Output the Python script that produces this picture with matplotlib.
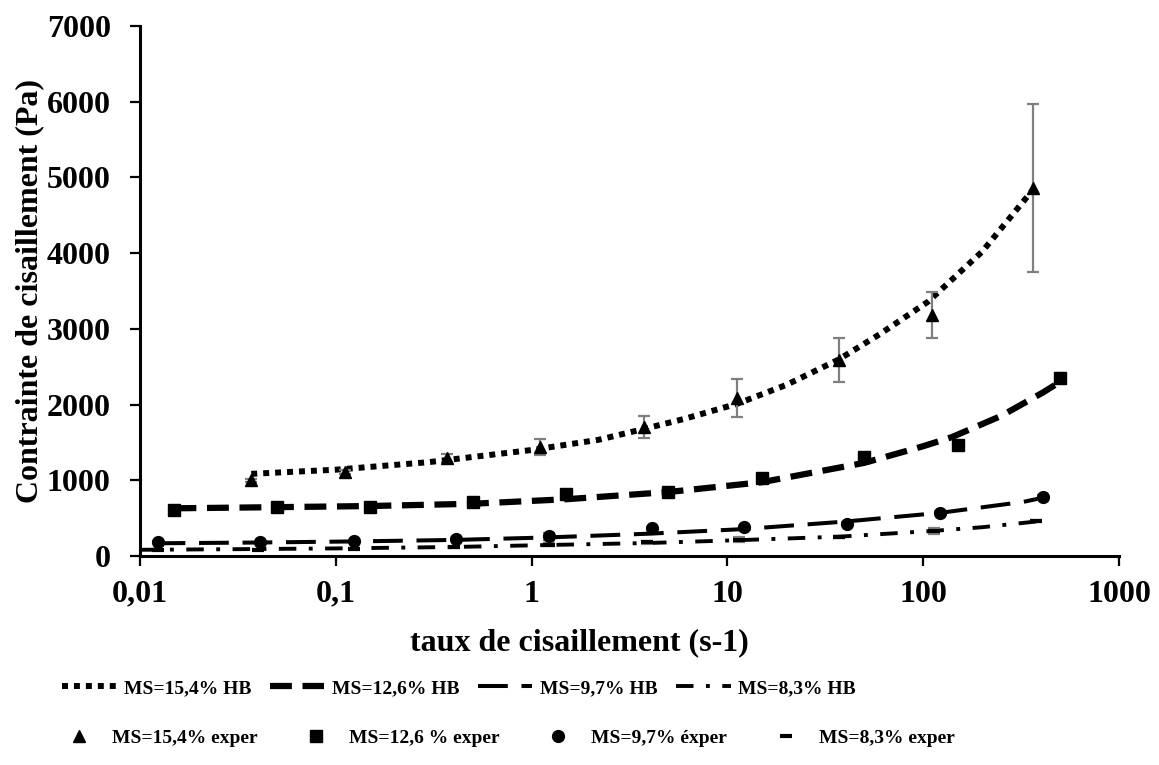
import matplotlib
matplotlib.use("Agg")
import matplotlib.pyplot as plt

plt.rcParams['font.family'] = ['Liberation Serif', 'DejaVu Serif']
plt.rcParams['font.weight'] = 'bold'

# experimental points
x_154 = [0.037, 0.112, 0.37, 1.11, 3.73, 11.2, 37.3, 111, 364]
y_154 = [1000, 1110, 1295, 1440, 1704, 2087, 2589, 3184, 4861]
e_154 = [20, 30, 55, 100, 140, 250, 290, 300, 1105]

x_126 = [0.015, 0.05, 0.15, 0.5, 1.5, 5, 15, 50, 150, 500]
y_126 = [608, 647, 647, 713, 825, 845, 1030, 1308, 1466, 2351]
e_126 = [10, 10, 10, 10, 15, 15, 20, 25, 30, 60]

x_97 = [0.0124, 0.041, 0.124, 0.41, 1.22, 4.1, 12.2, 41, 122, 409]
y_97 = [185, 185, 198, 222, 262, 370, 383, 423, 570, 779]
e_97 = [10, 10, 10, 15, 45, 15, 15, 20, 20, 25]

x_83 = [0.0124, 0.04, 0.124, 0.4, 1.22, 3.9, 11.5, 37, 113, 378]
y_83 = [80, 85, 95, 115, 150, 180, 215, 250, 330, 462]
e_83 = [5, 5, 5, 10, 20, 15, 30, 15, 35, 15]

# Herschel-Bulkley curves
hx_154 = [0.037, 0.1, 0.3, 1, 2.2, 3.7, 6, 11.2, 20, 37, 60, 106, 200, 364]
hy_154 = [1085, 1140, 1240, 1400, 1535, 1675, 1810, 2010, 2260, 2595, 2930, 3360, 4020, 4840]

hx_126 = [0.015, 0.05, 0.15, 0.5, 1.5, 5, 15, 50, 100, 140, 250, 409, 500]
hy_126 = [630, 645, 660, 690, 750, 845, 975, 1230, 1450, 1570, 1850, 2160, 2300]

hx_97 = [0.012, 0.04, 0.12, 0.4, 1.2, 4, 12, 40, 122, 325, 409]
hy_97 = [168, 178, 192, 212, 245, 295, 355, 455, 570, 715, 770]

hx_83 = [0.01, 0.03, 0.1, 0.4, 1.2, 4, 12, 37, 110, 200, 400]
hy_83 = [82, 90, 100, 119, 145, 172, 211, 255, 330, 380, 462]

fig = plt.figure(figsize=(11.59, 7.65), dpi=100)
ax = fig.add_axes([0.1208, 0.2732, 0.8447, 0.6928])

ax.plot(hx_154, hy_154, color='black', lw=4.3, dashes=(1, 1), label='MS=15,4% HB')
ax.plot(hx_126, hy_126, color='black', lw=4.5, dashes=(3.5, 1.7), label='MS=12,6% HB')
ax.plot(hx_97, hy_97, color='black', lw=2.9, dashes=(7.4, 3.4), label='MS=9,7% HB')
ax.plot(hx_83, hy_83, color='black', lw=2.8, dashes=(4.5, 3.2, 1, 3.2), label='MS=8,3% HB')

ecol = '#7f7f7f'
for xs, ys, es in [(x_154, y_154, e_154), (x_126, y_126, e_126),
                   (x_97, y_97, e_97), (x_83, y_83, e_83)]:
    ax.errorbar(xs, ys, yerr=es, fmt='none', ecolor=ecol, elinewidth=1.6,
                capsize=4.5, capthick=1.6, zorder=3)

ax.plot(x_154, y_154, ls='none', marker='^', ms=8, color='black', zorder=4,
        label='MS=15,4% exper')
ax.plot(x_126, y_126, ls='none', marker='s', ms=8.5, color='black', zorder=4,
        label='MS=12,6 % exper')
ax.plot(x_97, y_97, ls='none', marker='o', ms=8.5, color='black', zorder=4,
        label='MS=9,7% éxper')
ax.plot(x_83, y_83, ls='none', marker='_', ms=9, mew=3, color='black', zorder=4,
        label='MS=8,3% exper')

ax.set_xscale('log')
ax.set_xlim(0.01, 1000)
ax.set_ylim(0, 7000)
ax.set_xticks([0.01, 0.1, 1, 10, 100, 1000])
ax.set_xticklabels(['0,01', '0,1', '1', '10', '100', '1000'])
ax.minorticks_off()
ax.set_yticks(range(0, 7001, 1000))

for s in ['top', 'right']:
    ax.spines[s].set_visible(False)
for s in ['left', 'bottom']:
    ax.spines[s].set_linewidth(2.2)
ax.tick_params(axis='both', labelsize=23, width=1.6, length=7)
ax.tick_params(axis='y', pad=14)
ax.tick_params(axis='x', pad=10)

ax.set_xlabel('taux de cisaillement (s-1)', fontsize=23, fontweight='bold')
ax.xaxis.set_label_coords(0.449, -0.136)
ax.set_ylabel('Contrainte de cisaillement (Pa)', fontsize=23, fontweight='bold')
ax.yaxis.set_label_coords(-0.098, 0.5)

h, l = ax.get_legend_handles_labels()
leg_font = {'size': 14, 'weight': 'bold'}
leg1 = fig.legend(h[:4], l[:4], ncol=4, loc='center left',
                  bbox_to_anchor=(44 / 1159, 1 - 688 / 765), frameon=False,
                  prop=leg_font, handlelength=2.8, handletextpad=0.4,
                  columnspacing=0.95, borderpad=0.4)
leg2 = fig.legend(h[4:], l[4:], ncol=4, loc='center left',
                  bbox_to_anchor=(52 / 1159, 1 - 738 / 765), frameon=False,
                  prop=leg_font, handlelength=1.0, handletextpad=1.2,
                  columnspacing=2.5, borderpad=0.4)

fig.savefig('out.png', dpi=100)
